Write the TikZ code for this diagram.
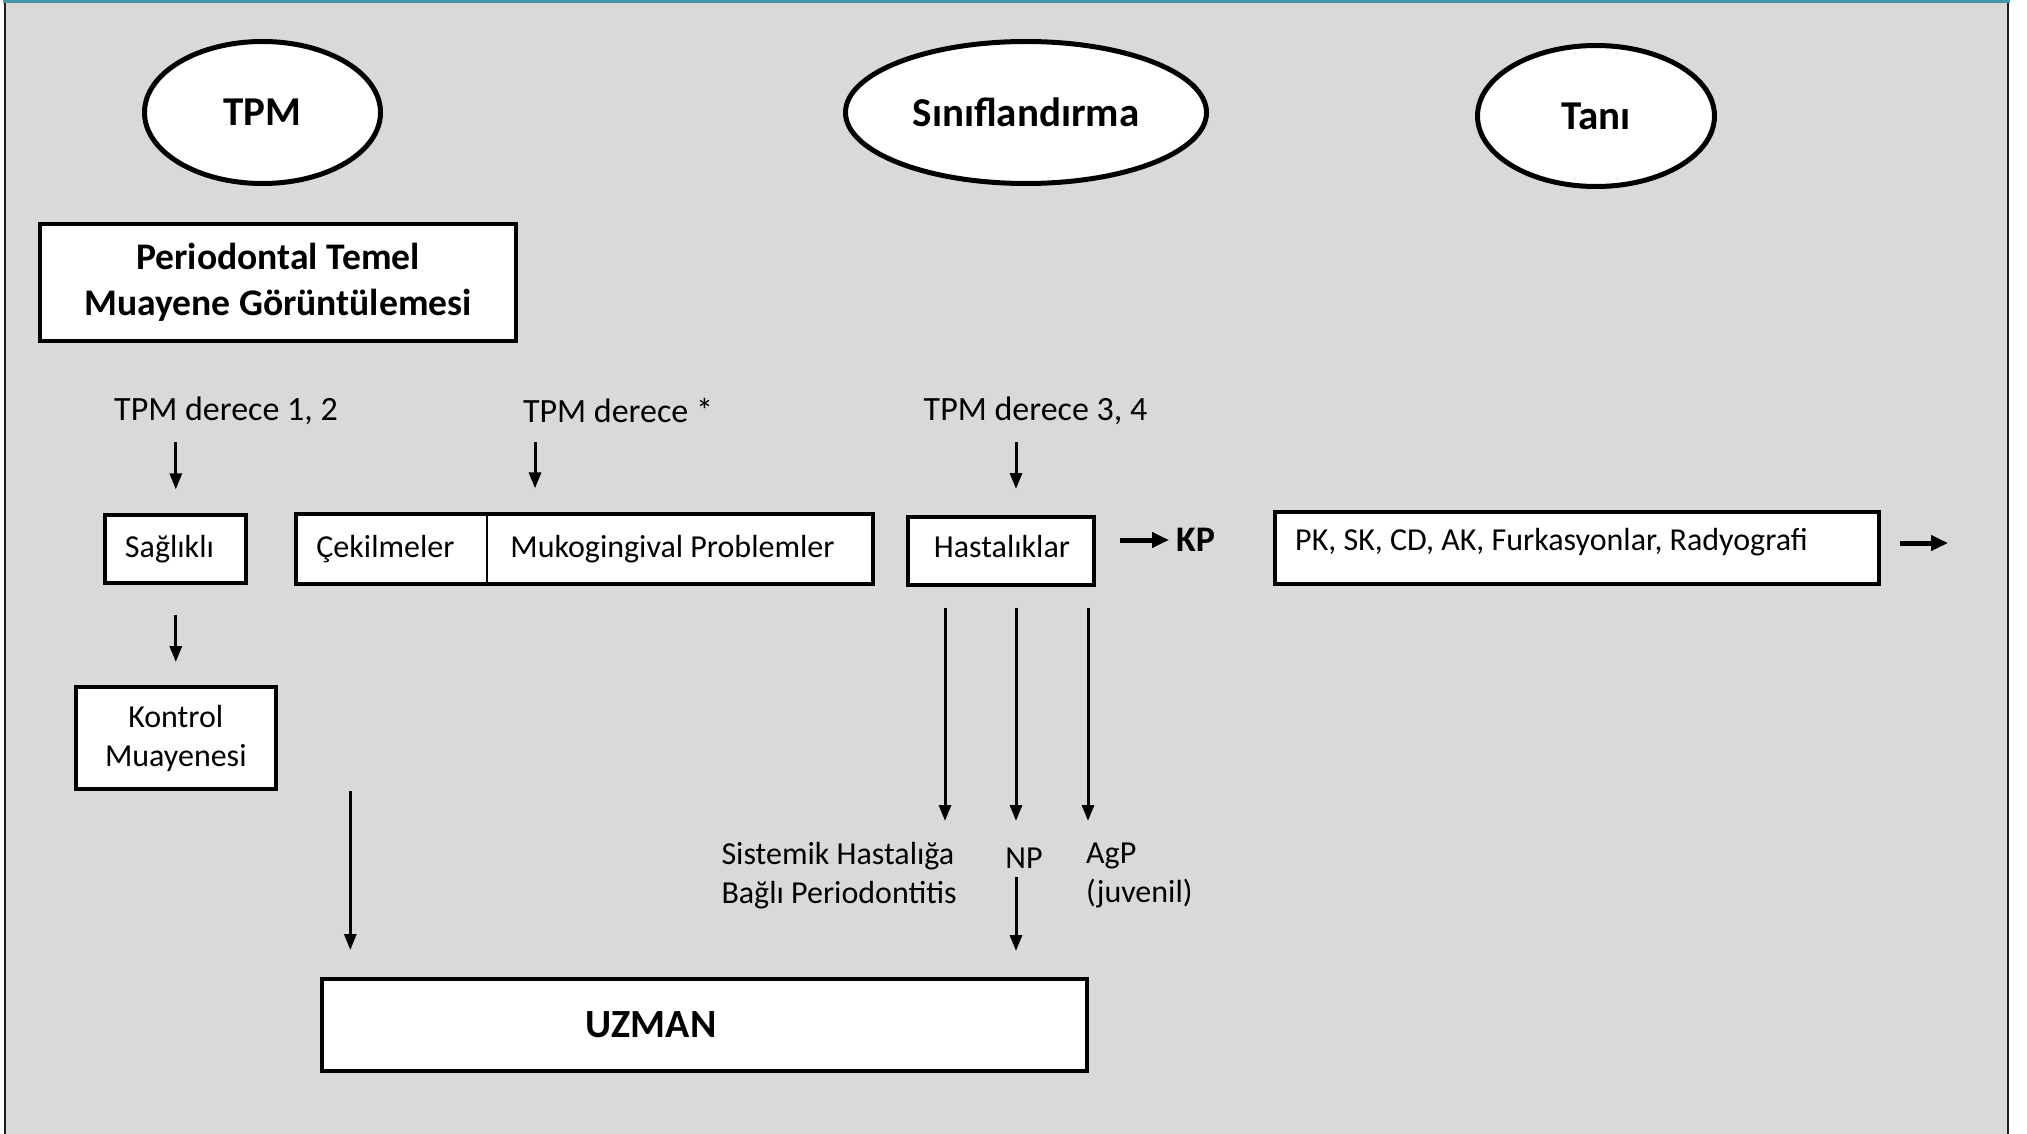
\documentclass[tikz,border=0pt]{standalone}
\usepackage{fontspec}
\setmainfont{Carlito}
\usetikzlibrary{arrows.meta,shapes.geometric,calc}
\definecolor{panel}{HTML}{D9D9D9}
\definecolor{rimtop}{RGB}{70,150,170}
\definecolor{rim}{RGB}{30,30,30}

\begin{document}
\begin{tikzpicture}[x=1pt,y=-1pt,
  oval/.style={ellipse, draw, line width=5pt, fill=white, inner sep=0pt,
    font=\fontsize{41}{49}\selectfont\bfseries},
  box/.style={rectangle, draw, line width=4pt, fill=white, inner sep=0pt,
    font=\fontsize{32}{39}\selectfont, align=center},
  lbl/.style={inner sep=0pt, font=\fontsize{34}{41}\selectfont},
  note/.style={inner sep=0pt, font=\fontsize{32}{39}\selectfont, align=left},
  arr/.style={line width=3pt, -{Triangle[length=16pt,width=12pt]}},
  fat/.style={line width=5pt, -{Triangle[length=17pt,width=15pt]}}
]
\useasboundingbox (0,0) rectangle (2027,1134);

% panel with its frame
\fill[panel] (5,2) rectangle (2008,1134);
\draw[rim, line width=2.5pt] (5,2) -- (5,1134);
\draw[rim, line width=2.5pt] (2008,2) -- (2008,1134);
\draw[rimtop, line width=2.5pt] (3,1.5) -- (2010,1.5);

% column headers
\node[oval, minimum width=236pt, minimum height=142pt] (tpm) at (262.5,112.5) {TPM};
\node[oval, minimum width=361pt, minimum height=142pt] (sin) at (1026,112.5) {Sınıflandırma};
\node[oval, minimum width=237pt, minimum height=141pt] (tani) at (1596,116) {Tanı};

% basic examination
\node[box, font=\fontsize{37.6}{46.5}\selectfont\bfseries,
      minimum width=476pt, minimum height=116pt] (ptm) at (278,282.5)
      {Periodontal Temel\\Muayene Görüntülemesi};

% grade labels
\node[lbl] (l1) at (226,411) {TPM derece 1, 2};
\node[lbl] (l2) at (618,411) {TPM derece *};
\node[lbl] (l3) at (1035.5,411) {TPM derece 3, 4};

% classification row
\node[box, minimum width=141pt, minimum height=68pt] (sag) at (175.8,549.4) {};
\node[note] (sagtx) at (169.5,549.4) {Sağlıklı};
\node[box, minimum width=577pt, minimum height=70pt] (cm) at (584.3,549.4) {};
\draw[line width=2.5pt] ($(cm.north west)+(193,2)$) -- ($(cm.south west)+(193,-2)$);
\node[note] (cek) at (385.5,549.4) {Çekilmeler};
\node[note] (muko) at (672.5,549.4) {Mukogingival Problemler};
\node[box, minimum width=186pt, minimum height=68pt] (hast) at (1001.2,550.7) {};
\node[note] (hasttx) at (1002,547) {Hastalıklar};
\node[inner sep=0pt, anchor=west, font=\fontsize{36}{43}\selectfont\bfseries] (kp) at (1176,540) {KP};

% diagnosis parameters
\node[box, minimum width=604pt, minimum height=72pt] (pk) at (1577,547.5) {};
\node[note, anchor=west] (pktx) at (1295,542) {PK, SK, CD, AK, Furkasyonlar, Radyografi};
\coordinate (pkout) at (1948,543);

% follow-up
\node[box, minimum width=200pt, minimum height=102pt] (kon) at (175.8,738) {Kontrol\\Muayenesi};

% disease groups
\node[note, anchor=west] (sist) at (721.3,875.2) {Sistemik Hastalığa\\Bağlı Periodontitis};
\node[note] (np) at (1024,858) {NP};
\node[note, anchor=west] (agp) at (1086,875.2) {AgP\\(juvenil)};

% specialist
\node[box, minimum width=765pt, minimum height=92pt] (uzm) at (704,1025) {};
\node[inner sep=0pt, font=\fontsize{40}{48}\selectfont\bfseries] (uzmtx) at (651,1025) {UZMAN};

% connectors
\draw[arr] ($(l1 -| sag)+(0,31)$) -- ($(sag.north)+(0,-24)$);
\draw[arr] ($(l2)+(-83,31)$) -- ($(l2 |- cm.north)+(-83,-24)$);
\draw[arr] ($(l3)+(-19.5,31)$) -- ($(l3 |- hast.north)+(-19.5,-25.7)$);
\draw[arr] ($(sag.south)+(0,30)$) -- ($(kon.north)+(0,-23)$);

\draw[arr] ($(hast.south)+(-56.2,21)$) -- ($(hast.south)+(-56.2,234.3)$);
\draw[arr] ($(hast.south)+(14.8,21)$) -- ($(hast.south)+(14.8,234.3)$);
\draw[arr] ($(hast.south)+(86.8,21)$) -- ($(hast.south)+(86.8,234.3)$);

\draw[arr] ($(np.south)+(-8,9)$) -- ($(uzm.north -| np)+(-8,-26)$);
\draw[arr] ($(kon.south)+(174.5,0)$) -- ($(uzm.north -| kon)+(174.5,-27)$);

\draw[fat] ($(hast.east)+(24,-10.7)$) -- ($(kp.west)+(-7,0)$);
\draw[fat] ($(pk.east)+(19,-4.5)$) -- (pkout);
\end{tikzpicture}
\end{document}
